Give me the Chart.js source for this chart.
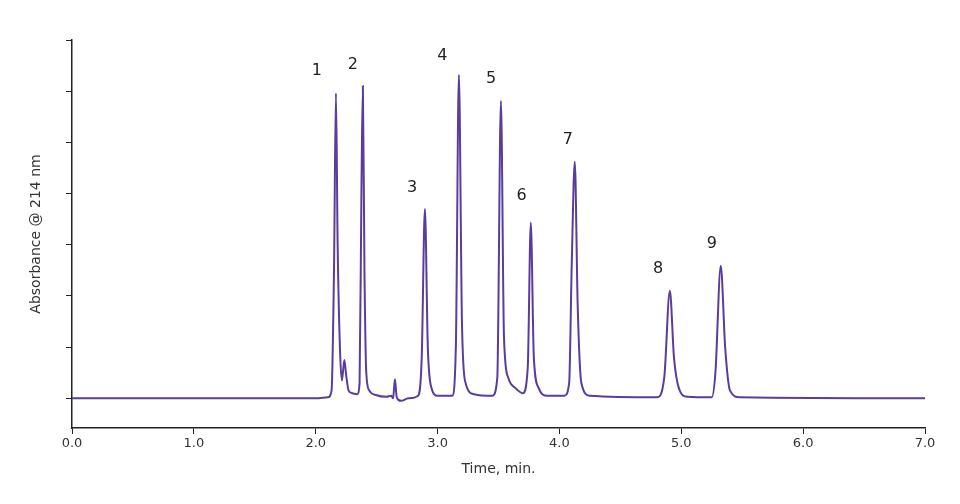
<!DOCTYPE html>
<html>
<head>
<meta charset="utf-8">
<script src="https://cdn.jsdelivr.net/npm/chart.js@4"></script>
<style>
  html, body { margin: 0; padding: 0; background: #fff; }
  #wrap { width: 960px; height: 504px; }
</style>
</head>
<body>
<div id="wrap"><canvas id="chart" width="960" height="504"></canvas></div>
<script>
// chromatogram trace (time in min, absorbance in tick units)
const times = [0.0, 2.0, 2.10, 2.13, 2.15, 2.166, 2.18, 2.20, 2.215, 2.235, 2.25, 2.27, 2.30, 2.34, 2.36, 2.375, 2.387,
  2.40, 2.415, 2.44, 2.50, 2.58, 2.62, 2.635, 2.65, 2.665, 2.70, 2.76, 2.84, 2.87, 2.896, 2.92, 2.95, 3.0, 3.12,
  3.15, 3.175, 3.20, 3.23, 3.30, 3.45, 3.49, 3.52, 3.545, 3.58, 3.64, 3.70, 3.74, 3.765, 3.79, 3.83, 3.90, 4.04,
  4.08, 4.10, 4.126, 4.15, 4.18, 4.25, 4.80, 4.86, 4.906, 4.94, 4.98, 5.05, 5.25, 5.28, 5.324, 5.36, 5.40, 5.48, 7.0];
const absorbance = [0.0, 0.0, 0.02, 0.15, 2.5, 5.96, 3.0, 0.9, 0.35, 0.75, 0.45, 0.15, 0.1, 0.08, 0.3, 4.0, 6.10,
  2.5, 0.5, 0.15, 0.06, 0.03, 0.05, 0.0, 0.37, 0.02, -0.05, 0.0, 0.05, 0.8, 3.70, 1.0, 0.2, 0.05, 0.05,
  1.0, 6.32, 1.5, 0.3, 0.08, 0.05, 0.4, 5.81, 1.2, 0.4, 0.2, 0.1, 0.6, 3.43, 0.8, 0.2, 0.05, 0.05,
  0.3, 2.5, 4.62, 1.8, 0.3, 0.05, 0.02, 0.4, 2.1, 0.8, 0.2, 0.03, 0.02, 0.5, 2.59, 1.0, 0.15, 0.02, 0.0];

// peak numbers and where they sit
const peakLabels = ["1", "2", "3", "4", "5", "6", "7", "8", "9"];
const peakLabelX = [2.01, 2.305, 2.79, 3.04, 3.44, 3.69, 4.07, 4.81, 5.25];
const peakLabelY = [6.39, 6.51, 4.11, 6.69, 6.24, 3.96, 5.05, 2.53, 3.02];

const xTicks = [0, 1, 2, 3, 4, 5, 6, 7];

const peakLabelPlugin = {
  id: "peakLabels",
  afterDatasetsDraw(chart) {
    const { ctx, scales: { x, y } } = chart;
    ctx.save();
    ctx.fillStyle = "#222";
    ctx.font = "16px 'DejaVu Sans', sans-serif";
    ctx.textAlign = "center";
    ctx.textBaseline = "middle";
    peakLabels.forEach((t, i) => {
      ctx.fillText(t, x.getPixelForValue(peakLabelX[i]), y.getPixelForValue(peakLabelY[i]));
    });
    ctx.restore();
  },
};

new Chart(document.getElementById("chart"), {
  type: "line",
  data: {
    datasets: [{
      data: times.map((t, i) => ({ x: t, y: absorbance[i] })),
      borderColor: "#5a3d9b",
      borderWidth: 2,
      pointRadius: 0,
      fill: false,
      cubicInterpolationMode: "monotone",
    }],
  },
  options: {
    responsive: false,
    animation: false,
    layout: { padding: { top: 40, right: 35, left: 24, bottom: 22 } },
    plugins: { legend: { display: false }, tooltip: { enabled: false } },
    scales: {
      x: {
        type: "linear",
        min: 0,
        max: 7,
        afterBuildTicks: (s) => { s.ticks = xTicks.map(v => ({ value: v })); },
        afterFit: (s) => { s.height = 54; },
        border: { color: "#222", width: 1.5 },
        grid: { drawOnChartArea: false, tickLength: 6, color: "#222" },
        ticks: {
          color: "#333",
          font: { size: 13, family: "'DejaVu Sans', sans-serif" },
          padding: 2,
          maxRotation: 0,
          callback: (v) => v.toFixed(1),
        },
        title: {
          display: true,
          text: "Time, min.",
          color: "#333",
          font: { size: 14, family: "'DejaVu Sans', sans-serif" },
          padding: { top: 6 },
        },
      },
      y: {
        min: -0.58,
        max: 7,
        afterBuildTicks: (s) => { s.ticks = [0, 1, 2, 3, 4, 5, 6, 7].map(v => ({ value: v })); },
        afterFit: (s) => { s.width = 48; },
        border: { color: "#222", width: 1.5 },
        grid: { drawOnChartArea: false, tickLength: 6, color: "#222" },
        ticks: { callback: () => "" },
        title: {
          display: true,
          text: "Absorbance @ 214 nm",
          color: "#333",
          font: { size: 14, family: "'DejaVu Sans', sans-serif" },
          padding: { bottom: 20 },
        },
      },
    },
  },
  plugins: [peakLabelPlugin],
});
</script>
</body>
</html>
